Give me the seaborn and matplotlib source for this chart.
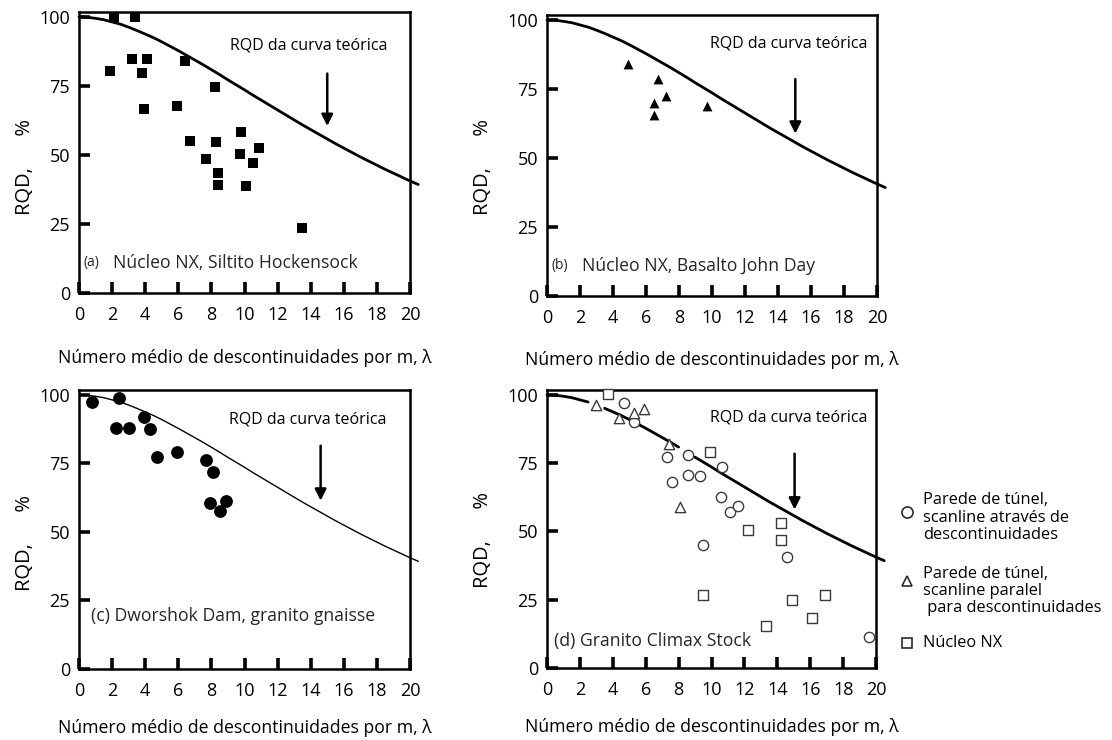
import numpy as np
import pandas as pd
import matplotlib
matplotlib.use("Agg")
import matplotlib.pyplot as plt
from matplotlib.lines import Line2D
import seaborn as sns

# ---------------- data ----------------
curve_lambda = [0, 0.5, 1, 1.5, 2, 2.5, 3, 3.5, 4, 4.5, 5, 5.5, 6, 6.5, 7, 7.5, 8, 8.5,
                9, 9.5, 10, 10.5, 11, 11.5, 12, 12.5, 13, 13.5, 14, 14.5, 15, 15.5, 16,
                16.5, 17, 17.5, 18, 18.5, 19, 19.5, 20, 20.5]
curve_rqd = [100, 99.9, 99.5, 99.0, 98.2, 97.4, 96.3, 95.1, 93.8, 92.5, 91.0, 89.4, 87.8,
             86.1, 84.4, 82.7, 80.9, 79.1, 77.2, 75.4, 73.6, 71.7, 69.9, 68.1, 66.3, 64.5,
             62.7, 60.9, 59.2, 57.5, 55.8, 54.1, 52.5, 50.9, 49.3, 47.8, 46.3, 44.8, 43.4,
             42.0, 40.6, 39.3]

a_lambda = [2.1, 3.4, 1.9, 3.2, 4.1, 3.8, 3.9, 6.4, 5.9, 6.7, 8.2, 7.7, 8.3, 8.4, 8.4,
            9.8, 9.7, 10.1, 10.5, 10.9, 13.5]
a_rqd = [100, 100, 80.5, 84.8, 84.8, 79.8, 66.6, 84.1, 67.7, 55.2, 74.7, 48.4, 54.8, 43.4,
         39.2, 58.2, 50.4, 38.6, 47.2, 52.4, 23.7]

b_lambda = [4.9, 6.7, 7.2, 6.5, 6.5, 9.7]
b_rqd = [84.0, 78.7, 72.3, 70.1, 65.5, 68.9]

c_lambda = [0.8, 2.4, 2.25, 3.0, 3.9, 4.3, 4.7, 5.9, 7.7, 8.1, 7.9, 8.5, 8.9]
c_rqd = [97.5, 98.7, 87.8, 87.8, 91.8, 87.6, 77.3, 79.3, 76.3, 71.9, 60.4, 57.6, 61.2]

d_circ_lambda = [4.7, 5.3, 7.3, 8.6, 7.6, 8.6, 9.3, 10.65, 10.6, 11.1, 11.6, 9.5, 14.6, 19.6]
d_circ_rqd = [97.1, 90.2, 77.3, 78.0, 68.0, 70.6, 70.4, 73.7, 62.7, 57.0, 59.5, 45.1, 40.7, 11.5]
d_tri_lambda = [3.0, 4.4, 5.3, 5.9, 7.4, 8.1]
d_tri_rqd = [96.2, 91.6, 93.4, 94.7, 81.9, 58.9]
d_sq_lambda = [3.7, 9.9, 12.2, 14.2, 14.2, 9.5, 14.9, 16.9, 16.1, 13.3]
d_sq_rqd = [100.5, 79.1, 50.7, 53.2, 47.0, 26.7, 24.9, 26.7, 18.2, 15.2]

x_ticks = [0, 2, 4, 6, 8, 10, 12, 14, 16, 18, 20]
y_ticks = [0, 25, 50, 75, 100]

panel_tags = ["(a)", "(b)"]
panel_titles = ["Núcleo NX, Siltito Hockensock", "Núcleo NX, Basalto John Day",
                "(c) Dworshok Dam, granito gnaisse", "(d) Granito Climax Stock"]
curve_label = "RQD da curva teórica"
xlabel = "Número médio de descontinuidades por m, λ"
ylabel = "RQD,      %"
legend_labels = ["Parede de túnel,\nscanline através de\ndescontinuidades",
                 "Parede de túnel,\nscanline paralel\n para descontinuidades",
                 "Núcleo NX"]

# ---------------- style ----------------
sns.set_theme(style="white")
plt.rcParams['font.family'] = ['Open Sans', 'DejaVu Sans']

W, H = 1112, 740
fig = plt.figure(figsize=(W / 100, H / 100), dpi=100)


def px_axes(left, top, right, bottom):
    return fig.add_axes([left / W, 1 - bottom / H, (right - left) / W, (bottom - top) / H])


ax_a = px_axes(79, 12, 410, 293)
ax_b = px_axes(547, 15, 877, 296)
ax_c = px_axes(79, 390, 410, 669)
ax_d = px_axes(547, 390, 876, 668)

curve_df = pd.DataFrame({"lam": curve_lambda, "rqd": curve_rqd})


def draw_curve(ax, lw, segments=((0, 20.5),)):
    for lo, hi in segments:
        sub = curve_df[(curve_df.lam >= lo) & (curve_df.lam <= hi)]
        sns.lineplot(data=sub, x="lam", y="rqd", ax=ax, color="black", lw=lw,
                     sort=False, estimator=None, clip_on=False, zorder=2)


def style_axes(ax, ylab_xy, xlab_y):
    ax.set_xlim(0, 20)
    ax.set_ylim(0, 101.8)
    ax.set_xticks(x_ticks)
    ax.set_yticks(y_ticks)
    ax.set_xticklabels([str(t) for t in x_ticks], fontsize=13)
    ax.set_yticklabels([str(t) for t in y_ticks], fontsize=13)
    ax.tick_params(axis="both", direction="in", length=8, width=2.6, color="black",
                   labelcolor="black", bottom=True, left=True)
    ax.tick_params(axis="x", pad=9.5)
    ax.tick_params(axis="y", pad=6.5)
    for s in ax.spines.values():
        s.set_linewidth(1.8)
        s.set_color("black")
    ax.set_xlabel(xlabel, fontsize=12.7, color="black")
    ax.xaxis.label.set_va("center")
    ax.xaxis.set_label_coords(0.5, xlab_y)
    ax.set_ylabel(ylabel, fontsize=14.5, color="black")
    ax.yaxis.set_label_coords(*ylab_xy)


def arrow(ax, x, y0, y1, tx, ty):
    ax.annotate("", xy=(x, y1), xytext=(x, y0),
                arrowprops=dict(arrowstyle="-|>", color="black", lw=1.8, mutation_scale=17))
    ax.text(tx, ty, curve_label, fontsize=11.5, ha="left", va="center", color="black")


# (a)
draw_curve(ax_a, 2.0)
sns.scatterplot(x=a_lambda, y=a_rqd, ax=ax_a, marker="s", s=60, color="black",
                edgecolor="black", linewidth=0, clip_on=False, zorder=3)
arrow(ax_a, 15.0, 80.5, 59.5, 9.1, 89.8)
ax_a.text(0.25, 10.9, panel_tags[0], fontsize=10, ha="left", va="center")
ax_a.text(2.05, 10.9, panel_titles[0], fontsize=12.7, ha="left", va="center")
style_axes(ax_a, (-0.133, 0.450), -0.231)

# (b)
draw_curve(ax_b, 2.0)
sns.scatterplot(x=b_lambda, y=b_rqd, ax=ax_b, marker="^", s=50, color="black",
                edgecolor="black", linewidth=0, zorder=3)
arrow(ax_b, 15.05, 79.6, 57.8, 9.9, 91.6)
ax_b.text(0.25, 11.0, panel_tags[1], fontsize=10, ha="left", va="center")
ax_b.text(2.15, 11.0, panel_titles[1], fontsize=12.7, ha="left", va="center")
style_axes(ax_b, (-0.164, 0.459), -0.228)

# (c)
draw_curve(ax_c, 1.0)
sns.scatterplot(x=c_lambda, y=c_rqd, ax=ax_c, marker="o", s=85, color="black",
                edgecolor="black", linewidth=0, zorder=3)
arrow(ax_c, 14.6, 82.5, 60.4, 9.05, 91.2)
ax_c.text(0.7, 19.3, panel_titles[2], fontsize=12.7, ha="left", va="center")
style_axes(ax_c, (-0.133, 0.450), -0.211)

# (d)
draw_curve(ax_d, 2.0, segments=((0, 2.5), (3.5, 8.0), (9.0, 20.5)))
mk = dict(s=55, facecolor="white", edgecolor="#3a3a3a", linewidth=1.0, zorder=3, clip_on=False)
sns.scatterplot(x=d_circ_lambda, y=d_circ_rqd, ax=ax_d, marker="o", **mk)
sns.scatterplot(x=d_tri_lambda, y=d_tri_rqd, ax=ax_d, marker="^", **mk)
sns.scatterplot(x=d_sq_lambda, y=d_sq_rqd, ax=ax_d, marker="s", **mk)
arrow(ax_d, 15.05, 79.5, 57.0, 9.9, 91.6)
ax_d.text(0.4, 10.0, panel_titles[3], fontsize=12.7, ha="left", va="center")
style_axes(ax_d, (-0.164, 0.459), -0.211)

# legend (manual, figure pixel positions)
leg_markers = ["o", "^", "s"]
leg_marker_y = [512, 581, 643]
leg_text_y = [517.5, 591, 643]
leg_msize = [8, 7, 7]
for m, my, ty, lab, ms in zip(leg_markers, leg_marker_y, leg_text_y, legend_labels, leg_msize):
    fig.add_artist(Line2D([907 / W], [1 - my / H], transform=fig.transFigure, ls="none",
                          marker=m, markersize=ms, markerfacecolor="white",
                          markeredgecolor="#2a2a2a", markeredgewidth=1.2))
    fig.text(923 / W, 1 - ty / H, lab, fontsize=11.8, ha="left", va="center",
             linespacing=1.1, color="black")

fig.savefig("out.png", dpi=100)
